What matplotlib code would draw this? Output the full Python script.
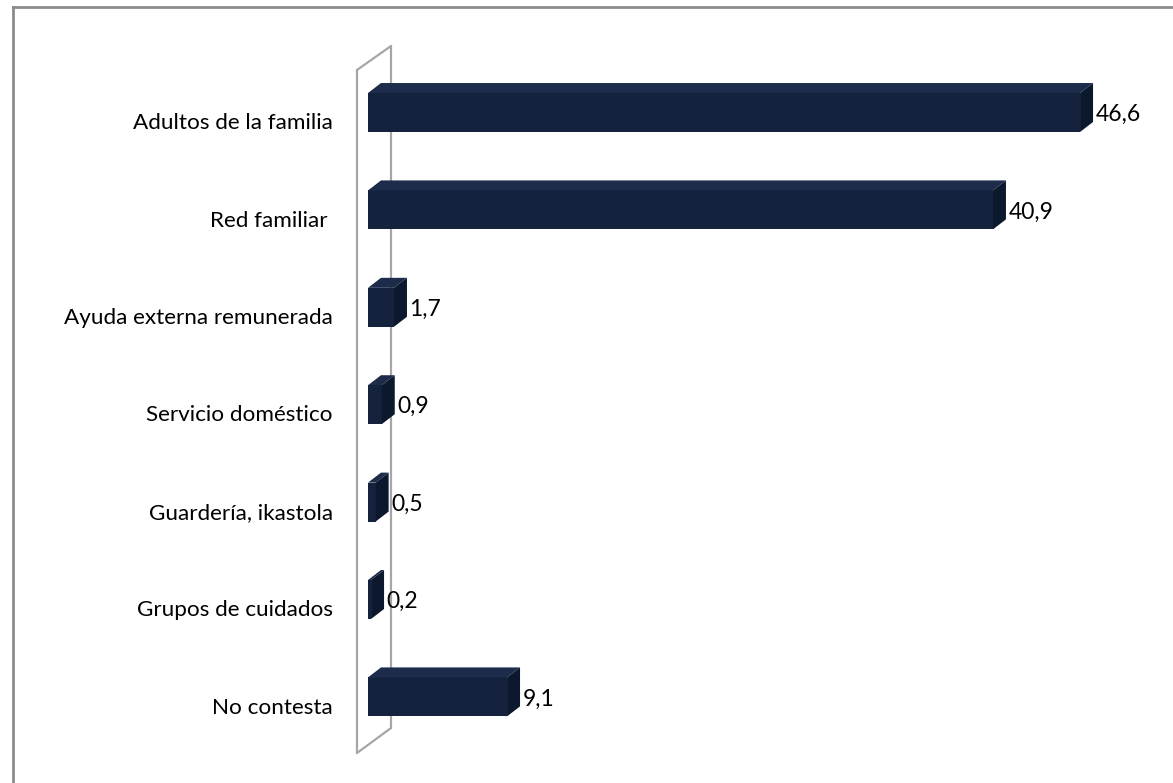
import matplotlib
matplotlib.use("Agg")
import matplotlib.pyplot as plt
from matplotlib.lines import Line2D
from matplotlib.patches import Polygon

categories = ["Adultos de la familia", "Red familiar ", "Ayuda externa remunerada",
              "Servicio doméstico", "Guardería, ikastola", "Grupos de cuidados", "No contesta"]
values = [46.6, 40.9, 1.7, 0.9, 0.5, 0.2, 9.1]
value_labels = ["46,6", "40,9", "1,7", "0,9", "0,5", "0,2", "9,1"]

W, H = 1173, 783
fig = plt.figure(figsize=(W / 100, H / 100), dpi=100)
fig.patch.set_facecolor("white")

# axes geometry (pixels)
x0_px, px_per_unit = 368, 15.28
xmax = 50
cat0_px, cat_step = 112.5, 97.4
top_px = cat0_px - cat_step / 2
bot_px = cat0_px + cat_step * 6.5
ax = fig.add_axes([x0_px / W, 1 - bot_px / H, xmax * px_per_unit / W, (bot_px - top_px) / H])
ax.set_xlim(0, xmax)
ax.set_ylim(6.5, -0.5)
ax.axis("off")

FONT = "Lato"
front_c = "#14223d"
top_c = "#1c2c4a"
side_c = "#0c182d"

bh = 0.4
dx = 13 / px_per_unit
dy = 10 / cat_step

ys = list(range(len(categories)))
ax.barh(ys, values, height=bh, color=front_c, zorder=3)
for y, v in zip(ys, values):
    t, b = y - bh / 2, y + bh / 2
    ax.add_patch(Polygon([(0, t), (v, t), (v + dx, t - dy), (dx, t - dy)],
                         closed=True, facecolor=top_c, edgecolor="none", zorder=3))
    ax.add_patch(Polygon([(v, t), (v + dx, t - dy), (v + dx, b - dy), (v, b)],
                         closed=True, facecolor=side_c, edgecolor="none", zorder=3))

for y, v, lab in zip(ys, values, value_labels):
    ax.text(v + dx + 0.15, y + 0.02, lab, ha="left", va="center", fontsize=16.5,
            family=FONT, color="#000000", zorder=4)

for y, cat in zip(ys, categories):
    ax.text(-35 / px_per_unit, y + 0.11, cat, ha="right", va="center", fontsize=16.2,
            family=FONT, color="#000000", clip_on=False)

# wall (left 3D panel)
def fx(px):
    return px / W
def fy(py):
    return 1 - py / H
wall_c = "#a6a6a6"
wall = [((357, 70), (357, 753)), ((391, 46), (391, 728)),
        ((357, 70), (391, 46)), ((357, 753), (391, 728))]
for (a, b) in wall:
    ln = Line2D([fx(a[0]), fx(b[0])], [fy(a[1]), fy(b[1])], transform=fig.transFigure,
                color=wall_c, lw=1.6, zorder=1, clip_on=False, solid_capstyle="round")
    ax.add_line(ln)

# outer chart border (left and top visible)
for (a, b) in [((13, 7), (13, 790)), ((13, 7), (1180, 7))]:
    fig.add_artist(Line2D([fx(a[0]), fx(b[0])], [fy(a[1]), fy(b[1])],
                          transform=fig.transFigure, color="#8c8c8c", lw=2.0))

fig.savefig("out.png", dpi=100)
